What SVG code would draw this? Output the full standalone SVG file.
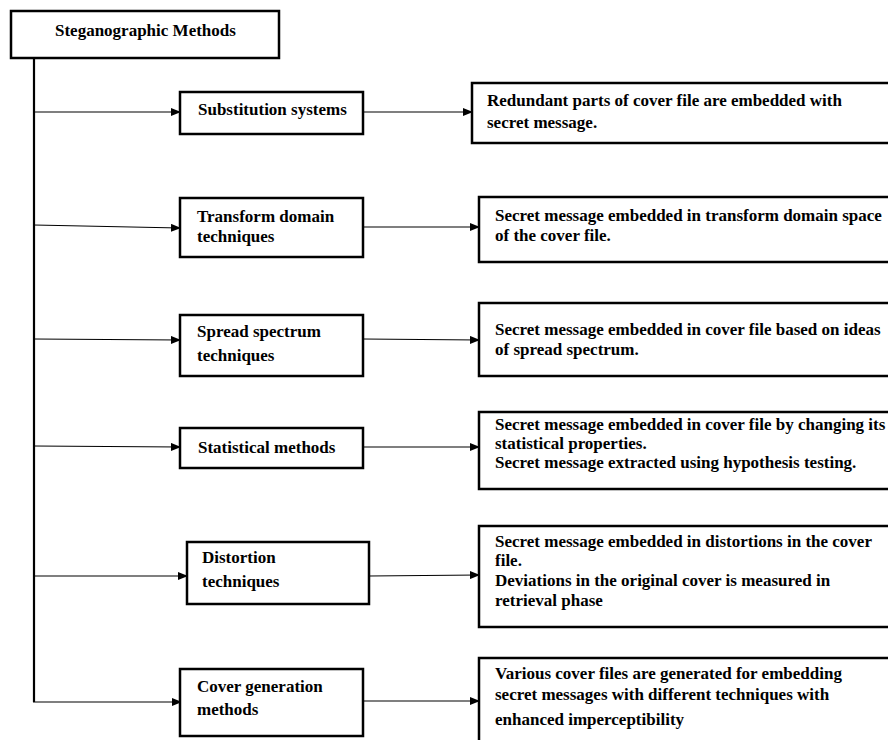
<svg xmlns="http://www.w3.org/2000/svg" width="888" height="740" viewBox="0 0 888 740">
<style>
.box{fill:#fff;stroke:#000;stroke-width:2.5}
.t{font-family:"Liberation Serif","Times New Roman",serif;font-weight:bold;font-size:17px;fill:#000}
.c{stroke:#000;stroke-width:1.2;fill:none}
.trunk{stroke:#000;stroke-width:2.2;fill:none}
</style>
<defs>
<marker id="ah" markerWidth="10" markerHeight="8" refX="9" refY="4" orient="auto" markerUnits="userSpaceOnUse">
<path d="M0,0 L10,4 L0,8 Z" fill="#000"/>
</marker>
</defs>
<rect width="888" height="740" fill="#fff"/>
<g id="connectors">
<path class="trunk" d="M34,58 L34,702"/>
<path class="c" d="M34,112 L180,112" marker-end="url(#ah)"/>
<path class="c" d="M34,225 L180,228" marker-end="url(#ah)"/>
<path class="c" d="M34,339 L180,340" marker-end="url(#ah)"/>
<path class="c" d="M34,446 L180,447" marker-end="url(#ah)"/>
<path class="c" d="M34,576 L187,576" marker-end="url(#ah)"/>
<path class="c" d="M33,702 L181,702" marker-end="url(#ah)"/>
<path class="c" d="M363,112 L472,112" marker-end="url(#ah)"/>
<path class="c" d="M363,227 L479,227" marker-end="url(#ah)"/>
<path class="c" d="M363,339 L479,340" marker-end="url(#ah)"/>
<path class="c" d="M363,447 L479,447" marker-end="url(#ah)"/>
<path class="c" d="M369,576 L479,575" marker-end="url(#ah)"/>
<path class="c" d="M363,701 L479,701" marker-end="url(#ah)"/>
</g>
<g id="root">
<rect class="box" x="11" y="11" width="268" height="47"/>
<text class="t" x="55" y="36">Steganographic Methods</text>
</g>
<g id="substitution">
<rect class="box" x="180" y="92" width="183" height="42"/>
<text class="t" x="198" y="115">Substitution systems</text>
</g>
<g id="transform">
<rect class="box" x="180" y="198" width="183" height="59"/>
<text class="t" x="197" y="222">Transform domain</text>
<text class="t" x="197" y="242">techniques</text>
</g>
<g id="spread">
<rect class="box" x="180" y="315" width="183" height="61"/>
<text class="t" x="197" y="337">Spread spectrum</text>
<text class="t" x="197" y="361">techniques</text>
</g>
<g id="statistical">
<rect class="box" x="180" y="428" width="183" height="40"/>
<text class="t" x="198" y="453">Statistical methods</text>
</g>
<g id="distortion">
<rect class="box" x="187" y="542" width="182" height="62"/>
<text class="t" x="202" y="563">Distortion</text>
<text class="t" x="202" y="587">techniques</text>
</g>
<g id="cover">
<rect class="box" x="180" y="669" width="183" height="67"/>
<text class="t" x="197" y="692">Cover generation</text>
<text class="t" x="197" y="715">methods</text>
</g>
<g id="desc-substitution">
<rect class="box" x="472" y="83" width="430" height="60"/>
<text class="t" x="487" y="106">Redundant parts of cover file are embedded with</text>
<text class="t" x="487" y="128">secret message.</text>
</g>
<g id="desc-transform">
<rect class="box" x="479" y="197" width="423" height="65"/>
<text class="t" x="495" y="221">Secret message embedded in transform domain space</text>
<text class="t" x="495" y="241">of the cover file.</text>
</g>
<g id="desc-spread">
<rect class="box" x="479" y="303" width="423" height="73"/>
<text class="t" x="495" y="335">Secret message embedded in cover file based on ideas</text>
<text class="t" x="495" y="355">of spread spectrum.</text>
</g>
<g id="desc-statistical">
<rect class="box" x="479" y="412" width="423" height="77"/>
<text class="t" x="495" y="430">Secret message embedded in cover file by changing its</text>
<text class="t" x="495" y="449">statistical properties.</text>
<text class="t" x="495" y="468">Secret message extracted using hypothesis testing.</text>
</g>
<g id="desc-distortion">
<rect class="box" x="479" y="526" width="423" height="101"/>
<text class="t" x="495" y="547">Secret message embedded in distortions in the cover</text>
<text class="t" x="495" y="566">file.</text>
<text class="t" x="495" y="586">Deviations in the original cover is measured in</text>
<text class="t" x="495" y="606">retrieval phase</text>
</g>
<g id="desc-cover">
<rect class="box" x="479" y="658" width="423" height="100"/>
<text class="t" x="495" y="679">Various cover files are generated for embedding</text>
<text class="t" x="495" y="700">secret messages with different techniques with</text>
<text class="t" x="495" y="725">enhanced imperceptibility</text>
</g>
</svg>
